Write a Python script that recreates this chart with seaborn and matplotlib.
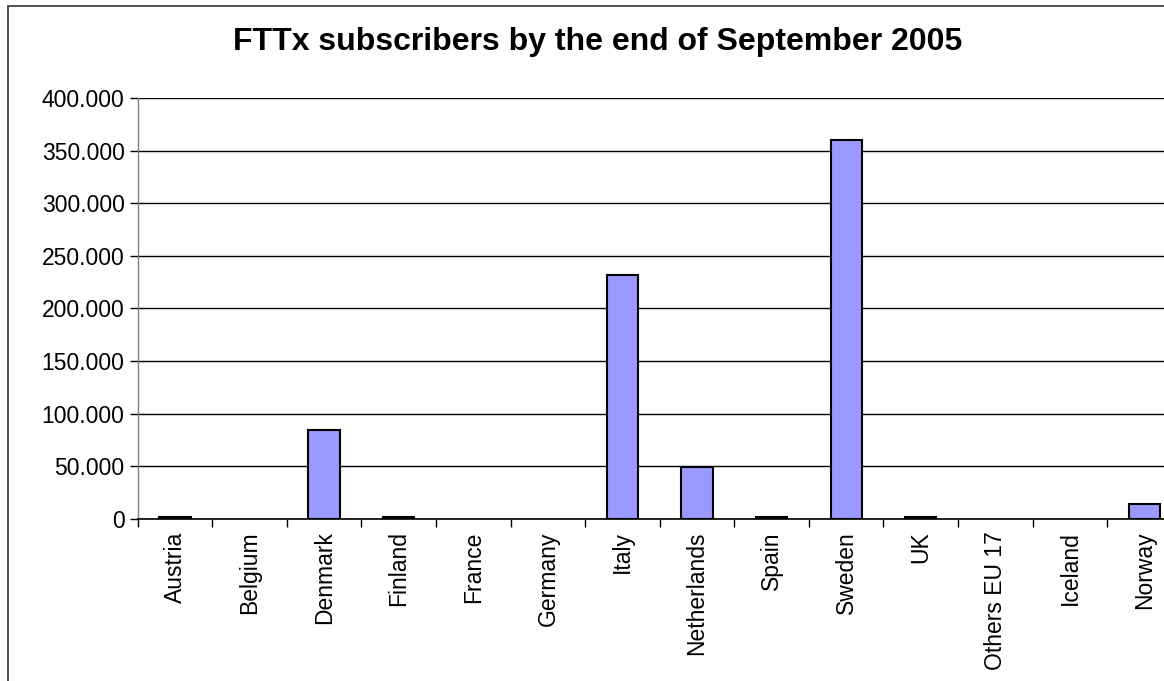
import matplotlib
matplotlib.use("Agg")
import matplotlib.pyplot as plt
import matplotlib.ticker as mticker
from matplotlib.patches import Rectangle
import seaborn as sns
import pandas as pd

# data
countries = ['Austria', 'Belgium', 'Denmark', 'Finland', 'France', 'Germany', 'Italy',
             'Netherlands', 'Spain', 'Sweden', 'UK', 'Others EU 17', 'Iceland', 'Norway']
subscribers = [1800, 0, 85000, 1500, 0, 0, 232000,
               49000, 1800, 360000, 1500, 0, 0, 14000]
y_ticks = [0, 50000, 100000, 150000, 200000, 250000, 300000, 350000, 400000]

df = pd.DataFrame({'country': countries, 'subscribers': subscribers})

sns.set_style("white")
plt.rcParams['font.family'] = ['Liberation Sans', 'DejaVu Sans']
plt.rcParams['text.color'] = 'black'
plt.rcParams['xtick.color'] = 'black'
plt.rcParams['ytick.color'] = 'black'

fig = plt.figure(figsize=(11.64, 6.81), dpi=100)
ax = fig.add_axes([0.1183, 0.2379, 0.897, 0.6182])

sns.barplot(data=df, x='country', y='subscribers', order=countries, color='#9999FF',
            edgecolor='black', linewidth=1.5, width=0.42, saturation=1, ax=ax)

# zero bars are not drawn in the original
for p in ax.patches:
    if p.get_height() == 0:
        p.set_visible(False)

ax.set_ylim(0, 400000)
ax.set_xlim(-0.5, len(countries) - 0.5)
ax.set_yticks(y_ticks)
ax.yaxis.set_major_formatter(mticker.FuncFormatter(lambda v, pos: f"{int(v):,}".replace(',', '.')))
ax.yaxis.grid(True, color='black', linewidth=1)
ax.set_axisbelow(True)

ax.set_xlabel('')
ax.set_ylabel('')
ax.tick_params(axis='y', labelsize=16.5, length=6, width=1, color='black', labelcolor='black',
               left=True, direction='out')
ax.tick_params(axis='x', which='major', labelsize=16.5, length=0, rotation=90, pad=9,
               labelcolor='black')
ax.set_xticks([i - 0.5 for i in range(len(countries) + 1)], minor=True)
ax.tick_params(axis='x', which='minor', length=6, width=1, color='black', bottom=True, direction='out')

for s in ['top', 'right']:
    ax.spines[s].set_visible(False)
ax.spines['left'].set_color('#808080')
ax.spines['left'].set_linewidth(1)
ax.spines['bottom'].set_color('black')
ax.spines['bottom'].set_linewidth(1.2)

fig.text(0.513, 0.938, 'FTTx subscribers by the end of September 2005', ha='center', va='center',
         fontsize=23, fontweight='bold', color='black')

# chart area border (runs off the right and bottom of the picture)
fig.patches.append(Rectangle((8 / 1164, -0.1), 1.1, 1.1 - 6 / 681, transform=fig.transFigure,
                             fill=False, edgecolor='#333333', linewidth=1.2))

fig.savefig('out.png', dpi=100)
